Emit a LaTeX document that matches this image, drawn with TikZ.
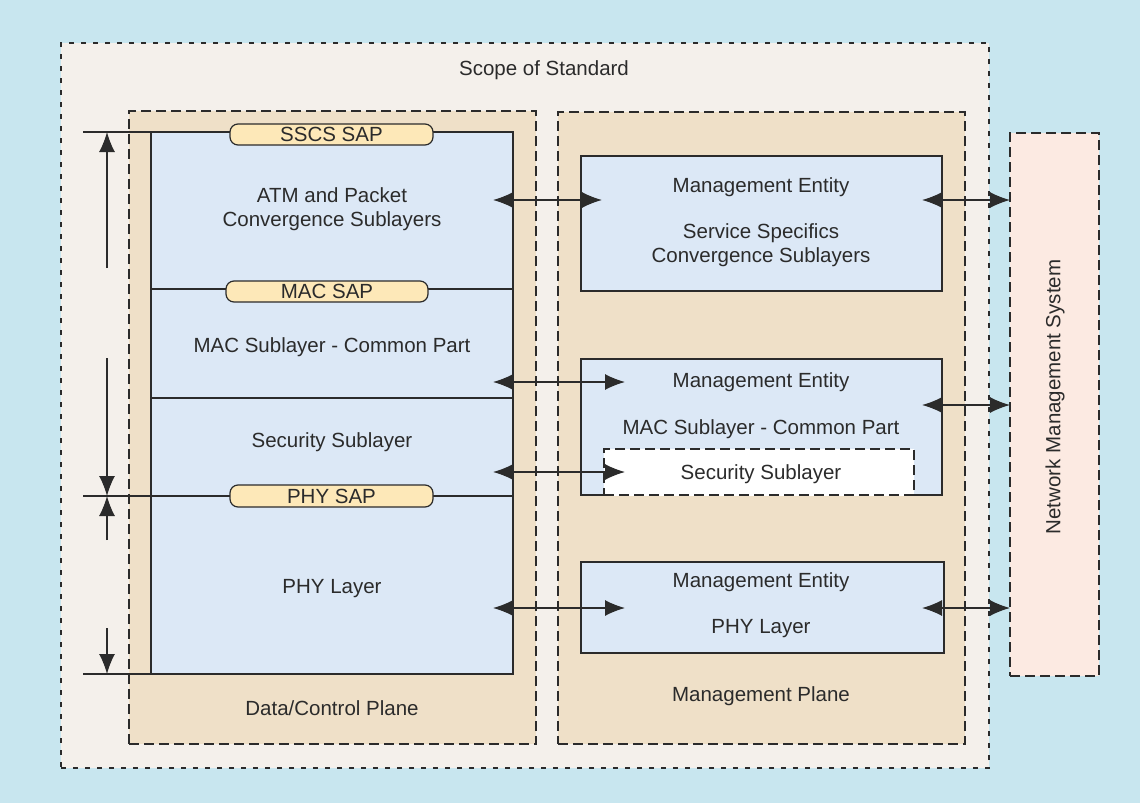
\documentclass[tikz,border=0pt]{standalone}
\usepackage{fontspec}
\setmainfont{Liberation Sans}
\usetikzlibrary{arrows.meta}
\definecolor{bgblue}{HTML}{C8E6EF}
\definecolor{scopefill}{HTML}{F4F0EB}
\definecolor{planefill}{HTML}{EFE0C8}
\definecolor{layerblue}{HTML}{DCE8F6}
\definecolor{pillfill}{HTML}{FDE8B8}
\definecolor{nmsfill}{HTML}{FCEAE2}
\definecolor{ink}{HTML}{2B2B2B}
\begin{document}
\begin{tikzpicture}[x=1pt,y=-1pt,
  every node/.style={inner sep=0pt,outer sep=0pt},
  lbl/.style={text=ink,font=\fontsize{20.5}{24}\selectfont,align=center},
  scopebox/.style={draw=ink,line width=2.2pt,dash pattern=on 5pt off 7pt,fill=scopefill,anchor=north west},
  planebox/.style={draw=ink,line width=1.2pt,dash pattern=on 10pt off 5pt,fill=planefill,anchor=north west},
  layerbox/.style={draw=ink,line width=1.3pt,fill=layerblue,anchor=north west},
  secbox/.style={draw=ink,line width=1.3pt,dash pattern=on 10pt off 5pt,fill=white,anchor=north west},
  nmsbox/.style={draw=ink,line width=1.2pt,dash pattern=on 10pt off 5pt,fill=nmsfill,anchor=north west},
  pill/.style={draw=ink,line width=1.2pt,fill=pillfill,rounded corners=8pt},
  sep/.style={draw=ink,line width=1.3pt},
  dbl/.style={ink,line width=1.4pt,{Latex[length=20pt,width=16pt]}-{Latex[length=20pt,width=16pt]}},
  dim/.style={ink,line width=1.4pt,-{Latex[length=20pt,width=16pt]}}
]
\useasboundingbox (0,0) rectangle (1140,803);
\fill[bgblue] (0,0) rectangle (1140,803);

% scope of standard
\node[scopebox,minimum width=928pt,minimum height=725pt] (scope) at (61,43) {};
\node[lbl] (scopetxt) at (544,70) {Scope of Standard};

% planes
\node[planebox,minimum width=407pt,minimum height=633pt] (dcp) at (129,111) {};
\node[planebox,minimum width=407pt,minimum height=632pt] (mp) at (558,112) {};
\node[lbl] (dctxt) at (332,708) {Data/Control Plane};
\node[lbl] (mptxt) at (761,696) {Management Plane};

% data/control stack
\node[layerbox,minimum width=362pt,minimum height=542pt] (stack) at (151,132) {};
\draw[sep] (151,289) -- (513,289);
\draw[sep] (151,398) -- (513,398);
\coordinate (topl) at (83,132);
\coordinate (phyl) at (83,496);
\coordinate (botl) at (83,674);
\draw[sep] (topl) -- (stack.north west);
\draw[sep] (phyl) -- (513,496);
\draw[sep] (botl) -- (stack.south west);

\node[pill,minimum width=203pt,minimum height=21pt,anchor=north west] (sscs) at (230,124) {};
\node[lbl] at (sscs.center) {SSCS SAP};
\node[pill,minimum width=202pt,minimum height=21pt,anchor=north west] (macsap) at (226,281) {};
\node[lbl] at (macsap.center) {MAC SAP};
\node[pill,minimum width=203pt,minimum height=22pt,anchor=north west] (physap) at (230,485) {};
\node[lbl] at (physap.center) {PHY SAP};

\node[lbl] (atm) at (332,209) {ATM and Packet\\Convergence Sublayers};
\node[lbl] (macl) at (332,347) {MAC Sublayer - Common Part};
\node[lbl] (secl) at (332,442) {Security Sublayer};
\node[lbl] (phyl2) at (332,589) {PHY Layer};

% dimension arrows
\coordinate (d1) at (107,268);
\coordinate (d1t) at (107,132);
\coordinate (d2) at (107,358);
\coordinate (d2t) at (107,496);
\coordinate (d3) at (107,540);
\coordinate (d3t) at (107,496);
\coordinate (d4) at (107,628);
\coordinate (d4t) at (107,674);
\draw[dim] (d1) -- (d1t);
\draw[dim] (d2) -- (d2t);
\draw[dim] (d3) -- (d3t);
\draw[dim] (d4) -- (d4t);

% management entities
\node[layerbox,minimum width=361pt,minimum height=135pt] (me1) at (581,156) {};
\node[lbl] (me1a) at (761,187) {Management Entity};
\node[lbl] (me1b) at (761,245) {Service Specifics\\Convergence Sublayers};

\node[layerbox,minimum width=361pt,minimum height=136pt] (me2) at (581,359) {};
\draw[white,line width=2.5pt] (604,495) -- (914,495);
\node[secbox,minimum width=310pt,minimum height=46pt] (sec) at (604,449) {};
\node[lbl] (me2a) at (761,382) {Management Entity};
\node[lbl] (me2b) at (761,429) {MAC Sublayer - Common Part};
\node[lbl] (secb) at (761,474) {Security Sublayer};

\node[layerbox,minimum width=363pt,minimum height=91pt] (me3) at (581,562) {};
\node[lbl] (me3a) at (761,582) {Management Entity};
\node[lbl] (me3b) at (761,629) {PHY Layer};

% NMS
\node[nmsbox,minimum width=89pt,minimum height=543pt] (nms) at (1010,133) {};
\node[lbl,rotate=90] (nmstxt) at (1055,397) {Network Management System};

% arrows between planes
\coordinate (a1l) at (493,200); \coordinate (a1r) at (602,200);
\coordinate (a2l) at (493,382); \coordinate (a2r) at (625,382);
\coordinate (a3l) at (493,472); \coordinate (a3r) at (625,472);
\coordinate (a4l) at (493,608); \coordinate (a4r) at (625,608);
\draw[dbl] (a1l) -- (a1r);
\draw[dbl] (a2l) -- (a2r);
\draw[dbl] (a3l) -- (a3r);
\draw[dbl] (a4l) -- (a4r);

% arrows to NMS
\coordinate (n1) at (922,200);
\coordinate (n2) at (922,405);
\coordinate (n3) at (922,608);
\draw[dbl] (n1) -- (nms.west |- n1);
\draw[dbl] (n2) -- (nms.west |- n2);
\draw[dbl] (n3) -- (nms.west |- n3);
\end{tikzpicture}
\end{document}
